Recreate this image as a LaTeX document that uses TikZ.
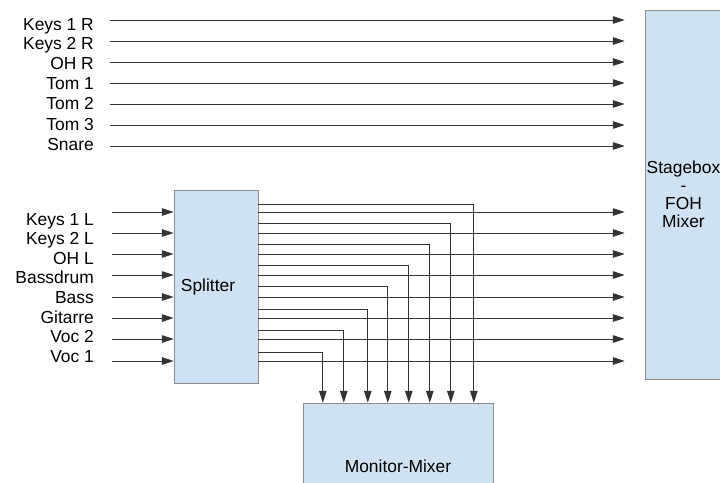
\documentclass[tikz,border=0pt]{standalone}
\usepackage{fontspec}
\setmainfont{Liberation Sans}
\usetikzlibrary{arrows.meta}
\definecolor{boxfill}{HTML}{CFE2F3}
\definecolor{boxline}{HTML}{8C8C8C}
\definecolor{wire}{HTML}{333333}
\tikzset{
  box/.style={draw=boxline, fill=boxfill, inner sep=0pt},
  chan/.style={anchor=base east, inner sep=0pt},
  sig/.style={-{Triangle[length=12pt, width=7.5pt]}, draw=wire, line width=1pt},
  tofoh/.style={sig, shorten >=20pt},
}

\begin{document}
\begin{tikzpicture}[x=1pt, y=-1pt, font=\fontsize{17.4}{18}\selectfont]
  \useasboundingbox (0,0) rectangle (720,482);

  \node[box, minimum width=77pt, minimum height=369pt, align=center] (foh) at (683.5,194.5) {Stagebox\\-\\FOH\\Mixer};
  \node[box, minimum width=84pt, minimum height=193pt] (split) at (216,286.5) {\raisebox{-3pt}{Splitter}\hspace*{16pt}};
  \node[box, minimum width=190pt, minimum height=127pt] (mon) at (398,466.5) {Monitor-Mixer};

  \node[chan] (tk1r) at (94,30) {Keys 1 R};
  \node[chan] (tk2r) at (94,49.5) {Keys 2 R};
  \node[chan] (tohr) at (94,69.5) {OH R};
  \node[chan] (tt1) at (94,89) {Tom 1};
  \node[chan] (tt2) at (94,109.5) {Tom 2};
  \node[chan] (tt3) at (94,130) {Tom 3};
  \node[chan] (tsn) at (94,150) {Snare};

  \node[chan] (tk1l) at (94,225) {Keys 1 L};
  \node[chan] (tk2l) at (94,244.6) {Keys 2 L};
  \node[chan] (tohl) at (94,264.2) {OH L};
  \node[chan] (tbd) at (94,283.8) {Bassdrum};
  \node[chan] (tbs) at (94,303.4) {Bass};
  \node[chan] (tgt) at (94,323) {Gitarre};
  \node[chan] (tv2) at (94,342.6) {Voc 2};
  \node[chan] (tv1) at (94,362.2) {Voc 1};

  \coordinate (k1r) at (110,20);
  \coordinate (k2r) at (110,41);
  \coordinate (ohr) at (110,62);
  \coordinate (t1) at (110,83);
  \coordinate (t2) at (110,104);
  \coordinate (t3) at (110,125);
  \coordinate (sn) at (110,146);

  \draw[tofoh] (k1r) -- (k1r -| foh.west);
  \draw[tofoh] (k2r) -- (k2r -| foh.west);
  \draw[tofoh] (ohr) -- (ohr -| foh.west);
  \draw[tofoh] (t1) -- (t1 -| foh.west);
  \draw[tofoh] (t2) -- (t2 -| foh.west);
  \draw[tofoh] (t3) -- (t3 -| foh.west);
  \draw[tofoh] (sn) -- (sn -| foh.west);

  \coordinate (k1l) at (112,212);
  \coordinate (k2l) at (112,233);
  \coordinate (ohl) at (112,254);
  \coordinate (bd) at (112,275);
  \coordinate (bs) at (112,297);
  \coordinate (gt) at (112,318);
  \coordinate (v2) at (112,339);
  \coordinate (v1) at (112,361);

  \draw[sig] (k1l) -- (k1l -| split.west);
  \draw[sig] (k2l) -- (k2l -| split.west);
  \draw[sig] (ohl) -- (ohl -| split.west);
  \draw[sig] (bd) -- (bd -| split.west);
  \draw[sig] (bs) -- (bs -| split.west);
  \draw[sig] (gt) -- (gt -| split.west);
  \draw[sig] (v2) -- (v2 -| split.west);
  \draw[sig] (v1) -- (v1 -| split.west);

  \draw[tofoh] (k1l -| split.east) -- (k1l -| foh.west);
  \draw[tofoh] (k2l -| split.east) -- (k2l -| foh.west);
  \draw[tofoh] (ohl -| split.east) -- (ohl -| foh.west);
  \draw[tofoh] (bd -| split.east) -- (bd -| foh.west);
  \draw[tofoh] (bs -| split.east) -- (bs -| foh.west);
  \draw[tofoh] (gt -| split.east) -- (gt -| foh.west);
  \draw[tofoh] (v2 -| split.east) -- (v2 -| foh.west);
  \draw[tofoh] (v1 -| split.east) -- (v1 -| foh.west);

  \coordinate (mk1l) at (258,204);
  \coordinate (mk2l) at (258,223);
  \coordinate (mohl) at (258,244);
  \coordinate (mbd) at (258,265);
  \coordinate (mbs) at (258,286);
  \coordinate (mgt) at (258,309);
  \coordinate (mv2) at (258,330);
  \coordinate (mv1) at (258,352);

  \draw[sig] (mk1l) -| ([xshift=171pt]mon.north west);
  \draw[sig] (mk2l) -| ([xshift=148pt]mon.north west);
  \draw[sig] (mohl) -| ([xshift=127pt]mon.north west);
  \draw[sig] (mbd) -| ([xshift=106pt]mon.north west);
  \draw[sig] (mbs) -| ([xshift=85pt]mon.north west);
  \draw[sig] (mgt) -| ([xshift=65pt]mon.north west);
  \draw[sig] (mv2) -| ([xshift=41pt]mon.north west);
  \draw[sig] (mv1) -| ([xshift=20pt]mon.north west);
\end{tikzpicture}
\end{document}
